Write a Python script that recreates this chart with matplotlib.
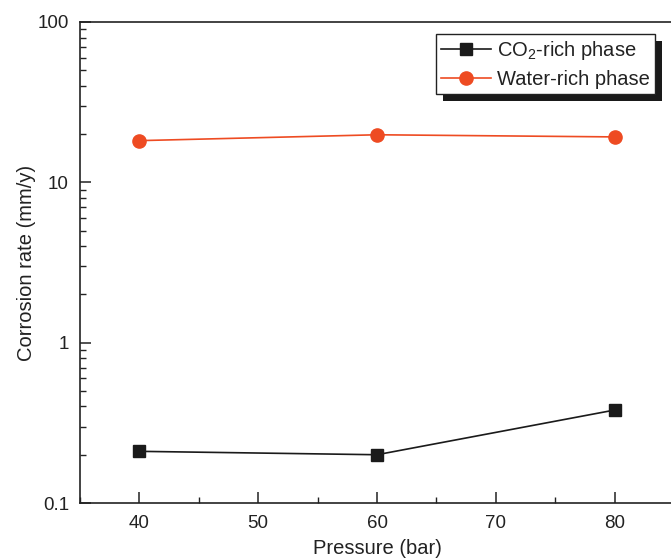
import matplotlib
matplotlib.use("Agg")
import matplotlib.pyplot as plt
import matplotlib.patheffects as pe
from matplotlib.ticker import MultipleLocator, FixedLocator, LogLocator, NullFormatter

plt.rcParams['font.family'] = ['Liberation Sans', 'DejaVu Sans']

pressure = [40, 60, 80]
co2_rich = [0.21, 0.20, 0.38]
water_rich = [18.2, 19.8, 19.2]

fig = plt.figure(figsize=(6.71, 5.58), dpi=100)
ax = fig.add_axes([80 / 671, 55 / 558, 594 / 671, 481 / 558])

ax.plot(pressure, co2_rich, color='#1a1a1a', marker='s', markersize=8.5,
        linewidth=1.2, label='CO$_\\mathregular{2}$-rich phase')
ax.plot(pressure, water_rich, color='#ee4b22', marker='o', markersize=9.5,
        linewidth=1.2, label='Water-rich phase')

ax.set_yscale('log')
ax.set_ylim(0.1, 100)
ax.set_xlim(35, 85)

ax.xaxis.set_major_locator(FixedLocator([40, 50, 60, 70, 80]))
ax.xaxis.set_minor_locator(MultipleLocator(5))
ax.yaxis.set_minor_locator(LogLocator(base=10, subs=range(2, 10)))
ax.yaxis.set_minor_formatter(NullFormatter())
ax.set_yticks([0.1, 1, 10, 100])
ax.set_yticklabels(['0.1', '1', '10', '100'])

ax.tick_params(which='both', direction='in', top=False, right=False,
               labelsize=13.5, color='#222222', labelcolor='#222222')
ax.tick_params(axis='x', which='major', pad=9)
ax.tick_params(axis='y', which='major', pad=8)
ax.tick_params(which='major', length=8, width=1.1)
ax.tick_params(which='minor', length=4.5, width=1.0)
for sp in ax.spines.values():
    sp.set_linewidth(1.2)
    sp.set_color('#222222')

ax.set_xlabel('Pressure (bar)', fontsize=14.5, color='#222222', labelpad=5)
ax.set_ylabel('Corrosion rate (mm/y)', fontsize=14.5, color='#222222', labelpad=1)

leg = ax.legend(loc='upper right', bbox_to_anchor=(0.968, 0.975),
                borderaxespad=0, fancybox=False, edgecolor='#222222',
                fontsize=14.5, handlelength=2.5, handletextpad=0.3,
                borderpad=0.25, labelspacing=0.4, framealpha=1)
for t in leg.get_texts():
    t.set_color('#222222')
frame = leg.get_frame()
frame.set_linewidth(1.0)
frame.set_path_effects([pe.withSimplePatchShadow(offset=(5, -5),
                                                 shadow_rgbFace='#1a1a1a',
                                                 alpha=1.0)])

fig.savefig('out.png', dpi=100)
